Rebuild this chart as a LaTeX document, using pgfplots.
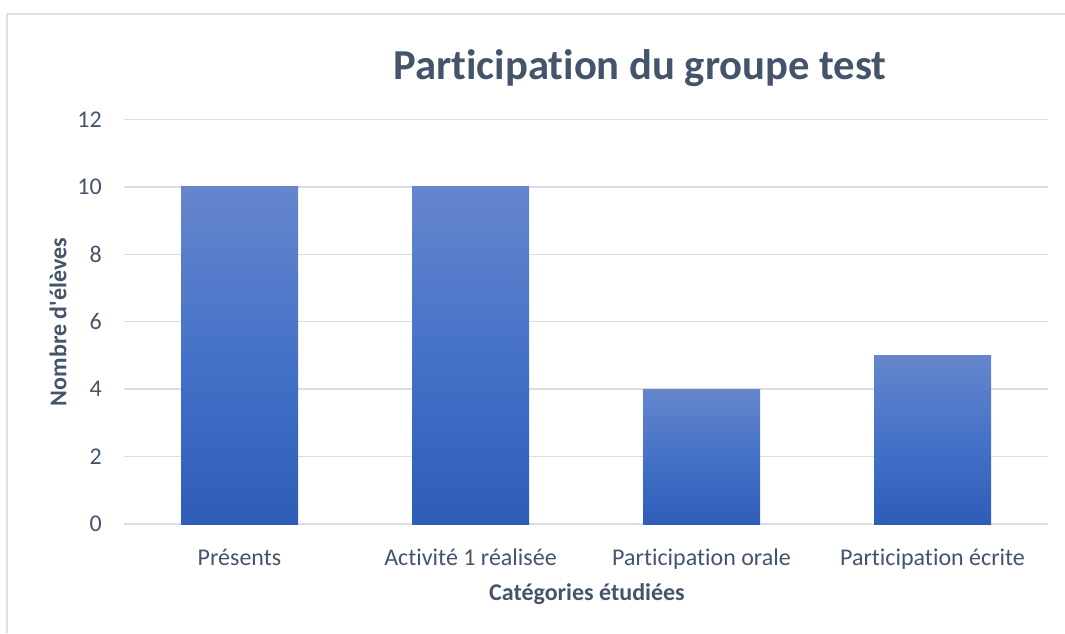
\documentclass[border=0pt]{standalone}
\usepackage{pgfplots}
\pgfplotsset{compat=1.18}
\usepackage{fontspec}
\setmainfont{Carlito}[Ligatures={NoCommon,TeXOff}, RawFeature={-liga;-clig;-calt}]
\newcommand\Ti{t\kern0pt i}
\definecolor{txt}{HTML}{44546A}
\definecolor{gridc}{HTML}{D9DEE6}
\definecolor{framec}{HTML}{DCE1E8}
\definecolor{barTop}{HTML}{6586CC}
\definecolor{barMid}{HTML}{4572C8}
\definecolor{barBot}{HTML}{2D5DB8}
\begin{document}
\begin{tikzpicture}
% canvas 1065 x 633 px, 1px = 0.75pt, origin bottom-left
\path[use as bounding box] (0,0) rectangle (798.75pt,474.75pt);
\draw[framec, line width=1.1pt] ({7*0.75pt},0) -- ({7*0.75pt},{(633-14)*0.75pt}) -- (800pt,{(633-14)*0.75pt});
\begin{axis}[
  at={({124*0.75pt},{(633-524)*0.75pt})},
  anchor=south west,
  scale only axis,
  width=693pt, height=303.375pt,
  xmin=-0.5, xmax=3.5,
  ymin=0, ymax=12,
  ytick={0,2,4,6,8,10,12},
  xtick={0,1,2,3},
  xticklabels={Présents, Ac\Ti vité 1 réalisée, Participa\Ti on orale, Participa\Ti on écrite},
  axis line style={draw=none},
  major tick length=0pt,
  ymajorgrids,
  grid style={gridc, line width=1.1pt},
  /pgf/number format/assume math mode=true,
  ticklabel style={font=\fontsize{18}{21}\selectfont, text=txt},
  yticklabel style={anchor=east, inner sep=0pt, xshift=-16.5pt},
  xticklabel style={anchor=base, inner sep=0pt, yshift=-30.75pt},
  clip=false,
  ybar, bar width=87.75pt,
  every axis plot/.append style={bar shift=0pt, draw=none, top color=barTop, bottom color=barBot, middle color=barMid},
]
\addplot coordinates {(0,10)};
\addplot coordinates {(1,10)};
\addplot coordinates {(2,4)};
\addplot coordinates {(3,5)};
\end{axis}
\node[anchor=base, text=txt, font=\fontsize{32}{38}\selectfont\bfseries] at ({640*0.75pt},{(633-80)*0.75pt}) {Participa\Ti on du groupe test};
\node[anchor=base, text=txt, font=\fontsize{18}{21}\selectfont\bfseries] at ({587*0.75pt},{(633-600)*0.75pt}) {Catégories étudiées};
\node[rotate=90, text=txt, font=\fontsize{18}{21}\selectfont\bfseries] at ({58*0.75pt},{(633-322)*0.75pt}) {Nombre d'élèves};
\end{tikzpicture}
\end{document}
